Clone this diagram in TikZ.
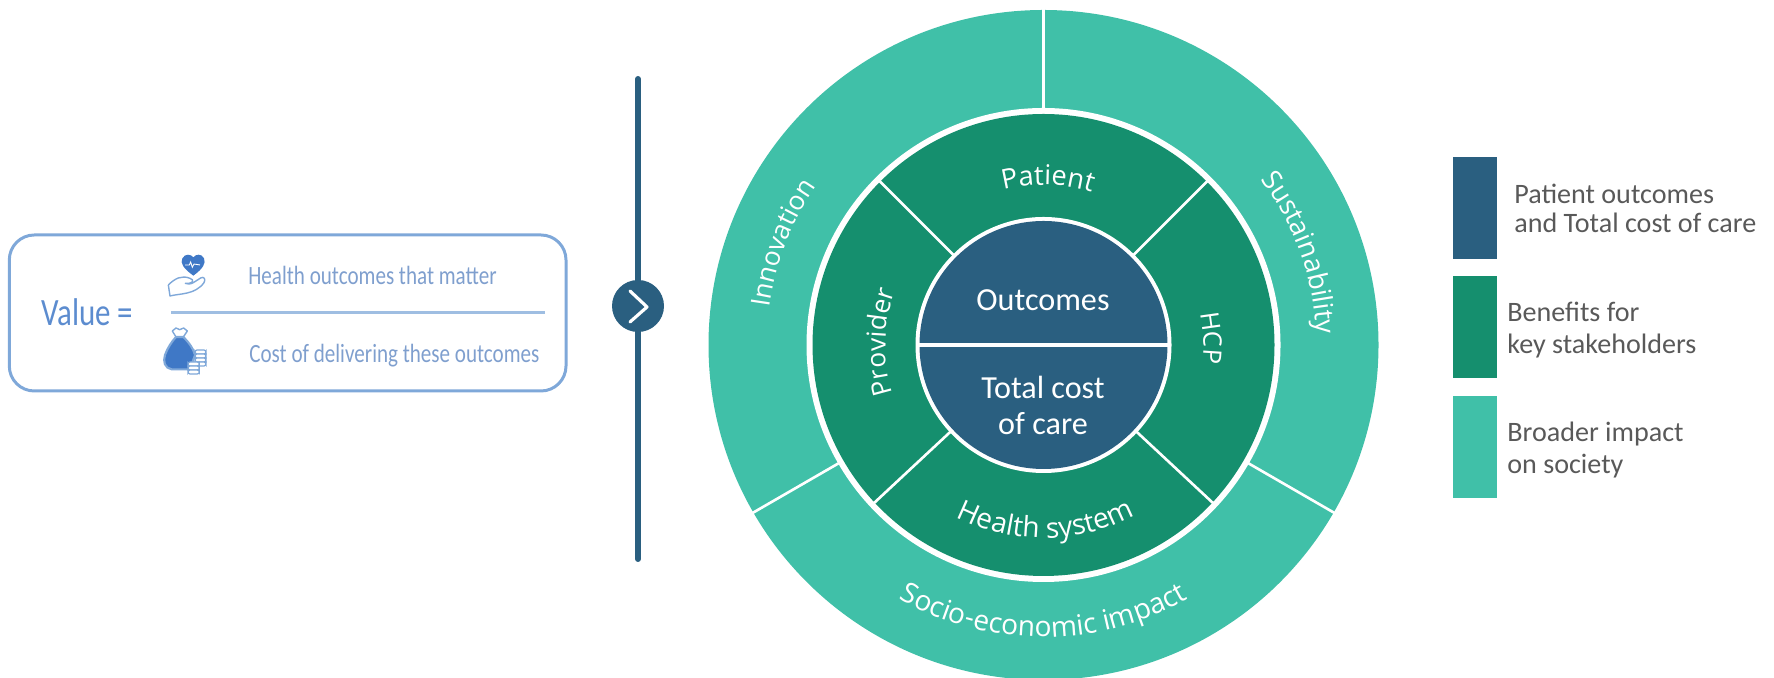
\documentclass[tikz,border=0pt]{standalone}
\usepackage{fontspec}
\setmainfont{Carlito}
\newfontfamily\wheelfont{Open Sans}
\newfontfamily\ratiofont[FakeStretch=0.8]{Carlito}
\usetikzlibrary{calc,decorations.text}
\definecolor{careblue}{HTML}{2A5F80}
\definecolor{stakegreen}{HTML}{158F6E}
\definecolor{societyteal}{HTML}{40C0A8}
\definecolor{boxblue}{HTML}{7FA8D9}
\definecolor{iconblue}{HTML}{3F78C6}
\definecolor{valuetext}{HTML}{7F9FCE}
\definecolor{legendtext}{HTML}{595959}
\tikzset{
	x=0.02cm, y=0.02cm,
	legendbox/.style={inner sep=0pt, text=legendtext, anchor=west, align=left, font=\fontsize{16}{18.7}\selectfont},
	ratiotext/.style={inner sep=0pt, text=valuetext, anchor=west, font=\ratiofont\fontsize{15}{17}\selectfont},
	hublabel/.style={inner sep=0pt, text=white, font=\fontsize{18.3}{21}\selectfont}
}
\def\arctext[#1:#2:#3:#4]#5{\path[decorate, decoration={text along path, text align=center, text={|\fontsize{#4}{20}\wheelfont\color{white}|#5}}] ($(wheel)+(#1:#3)$) arc (#1:#2:#3);}

\begin{document}
\begin{tikzpicture}
			\useasboundingbox (0, 0) rectangle (1774, 678);

			% The ratio box on the left, with its rule
			\draw[boxblue, line width=1.7pt, rounded corners=0.5cm] (9.3, 287) rectangle (566, 443);
			\draw[boxblue!75, line width=1.4pt] (171, 365.3) -- (545, 365.3);
			\node[inner sep=0pt, text=iconblue!85, font=\ratiofont\fontsize{22}{24}\selectfont] (value) at (87.5, 366) {Value =};
			\node[ratiotext] (health) at (248, 403) {Health outcomes that matter};
			\node[ratiotext] (cost) at (249, 322) {Cost of delivering these outcomes};

			% The heart over an open hand
			\begin{scope}[shift={(140, 438)}, xscale=1/3, yscale=-1/3]
				\fill[iconblue] (160, 107) .. controls (130, 85) and (120, 70) .. (127, 55) .. controls (135, 40) and (153, 42) .. (160, 52) .. controls (167, 42) and (185, 40) .. (192, 55) .. controls (198, 70) and (190, 85) .. (160, 107);
				\draw[white, line width=0.5pt] (135, 75) -- (148, 75) -- (152, 66) -- (157, 82) -- (162, 72) -- (180, 75);
				\draw[boxblue, line width=0.8pt, line join=round] (85, 135) -- (90, 168) .. controls (120, 160) and (165, 165) .. (192, 128) .. controls (198, 118) and (192, 108) .. (182, 114) -- (160, 128) .. controls (150, 134) and (140, 132) .. (136, 130) .. controls (160, 132) and (165, 120) .. (150, 115) .. controls (125, 105) and (105, 115) .. (85, 135);
			\end{scope}

			% The money bag and its two stacks of coins
			\begin{scope}[shift={(140, 438)}, xscale=1/3, yscale=-1/3]
				\draw[boxblue, line width=0.8pt, line join=round] (108, 291) -- (97, 273) -- (108, 264) -- (119, 269) -- (131, 264) -- (142, 273) -- (130, 291);
				\draw[boxblue, line width=1.2pt, fill=iconblue] (108, 291) -- (130, 291) .. controls (145, 305) and (160, 325) .. (165, 345) -- (150, 388) -- (95, 388) .. controls (75, 385) and (68, 365) .. (75, 345) .. controls (82, 325) and (95, 305) .. (108, 291) -- cycle;
				\foreach \coiny in {330, 342, 354, 366}
					\draw[boxblue, fill=white, line width=0.7pt, rounded corners=1.2pt] (165, \coiny) rectangle (198, \coiny+12);
				\foreach \coiny in {366, 378, 390}
					\draw[boxblue, fill=white, line width=0.7pt, rounded corners=1.2pt] (144, \coiny) rectangle (178, \coiny+12);
			\end{scope}

			% The vertical bar and the round chevron on it
			\draw[careblue, line width=3.4pt, line cap=round] (638, 599) -- (638, 119);
			\fill[careblue] (638, 372) circle (26);
			\draw[white, line width=1.8pt, line cap=round, line join=round] (630, 387) -- (647, 371) -- (630, 356);

			% The wheel is three discs, from the outer ring to the hub, each with a white edge
			\coordinate (wheel) at (1043.5, 333);
			\fill[societyteal] (wheel) circle (335);
			\fill[white] (wheel) circle (237);
			\fill[stakegreen] (wheel) circle (231);
			\fill[white] (wheel) circle (128);
			\fill[careblue] (wheel) circle (124);

			% The spokes of the outer ring and of the middle ring
			\foreach \spoke in {90, 210, 330}
				\draw[white, line width=1.5pt] ($(wheel)+(\spoke:234)$) -- ($(wheel)+(\spoke:336)$);
			\foreach \spoke in {45, 135, 223, 317}
				\draw[white, line width=1.5pt] ($(wheel)+(\spoke:126)$) -- ($(wheel)+(\spoke:232)$);
			\draw[white, line width=1.9pt] ($(wheel)+(-125, 0)$) -- ($(wheel)+(125, 0)$);

			% The labels of the hub
			\node[hublabel] (outcomes) at (1043, 378) {Outcomes};
			\node[hublabel] (total) at (1043, 291) {Total cost};
			\node[hublabel] (care) at (1043, 254) {of care};

			% The labels that follow the rings
			\arctext[126:51:160:15.5]{Patient}
			\arctext[219:139:158:15]{Provider}
			\arctext[32.4:-27.6:160:14.5]{HCP}
			\arctext[215.7:325.7:193:16]{Health system}
			\arctext[198.6:118.6:277:15]{Innovation}
			\arctext[57.3:-17.7:273:15.4]{Sustainability}
			\arctext[220:320:292:16]{Socio-economic impact}

			% The legend, one swatch and one text for each colour
			\fill[careblue] (1453, 419) rectangle (1497, 521);
			\fill[stakegreen] (1453, 300) rectangle (1497, 402);
			\fill[societyteal] (1453, 180) rectangle (1497, 282);
			\node[legendbox, font=\fontsize{16}{16.4}\selectfont] (legendcare) at (1514, 470) {Patient outcomes\\and Total cost of care};
			\node[legendbox] (legendstake) at (1507, 348) {Benefits for\\key stakeholders};
			\node[legendbox] (legendsociety) at (1507, 228) {Broader impact\\on society};
\end{tikzpicture}
\end{document}
